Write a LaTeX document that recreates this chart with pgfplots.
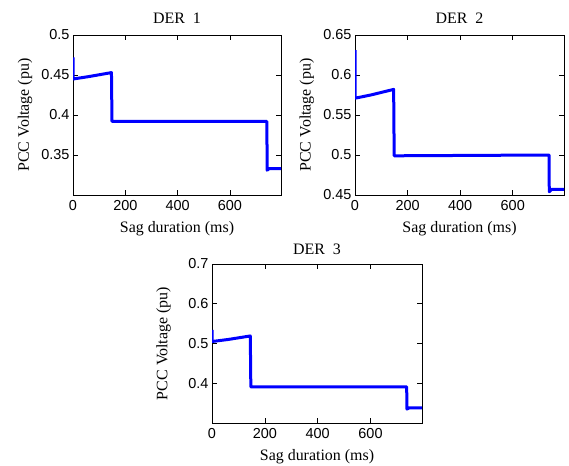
\documentclass[border=0pt]{standalone}
\usepackage{fontspec}
\setmainfont{Liberation Serif}
\newfontfamily\arial{Liberation Sans}
\usepackage{pgfplots}
\pgfplotsset{compat=1.18}

\pgfplotsset{
  dersty/.style={
    scale only axis, width=208bp, height=160bp,
    xmin=0, xmax=795, xtick={0,200,400,600},
    tick label style={font=\arial\fontsize{14.5}{16}\selectfont},
    xticklabel style={yshift=-2bp},
    /pgf/number format/assume math mode=true,
    yticklabel style={/pgf/number format/fixed},
    xlabel={Sag duration (ms)},
    ylabel={PCC Voltage (pu)},
    major tick length=5bp,
    tick style={black, line width=0.6bp},
    axis line style={line width=0.6bp},
    every axis x label/.style={at={(axis description cs:0.5,-0.2125)},anchor=center,
      font=\fontsize{16}{18}\selectfont},
    every axis y label/.style={at={(axis description cs:-0.231,0.5)},rotate=90,anchor=center,
      font=\fontsize{16}{18}\selectfont},
    anchor=north west,
  },
  dtitle/.style={every axis title/.style={at={(axis description cs:0.5,#1)},anchor=center,
      font=\fontsize{16}{18}\selectfont}},
  dline/.style={blue, line width=3bp, line join=round},
}

\begin{document}
\begin{tikzpicture}
\useasboundingbox (0,0) rectangle (569bp,-466bp);

% DER 1
\begin{axis}[dersty, at={(73bp,-35bp)},
  ymin=0.3, ymax=0.5, ytick={0.35,0.4,0.45,0.5},
  title={DER\ \ 1}, dtitle=1.105]
\addplot[dline] coordinates {
  (0,0.472)(0,0.445)(60,0.448)(147,0.453)(149,0.392)
  (741,0.392)(742,0.331)(750,0.333)(795,0.333)};
\end{axis}

% DER 2
\begin{axis}[dersty, at={(355bp,-35bp)}, width=209bp,
  ymin=0.45, ymax=0.65, ytick={0.45,0.5,0.55,0.6,0.65},
  title={DER\ \ 2}, dtitle=1.105]
\addplot[dline] coordinates {
  (0,0.631)(0,0.571)(60,0.575)(147,0.582)(149,0.499)
  (738,0.500)(739,0.454)(748,0.457)(795,0.457)};
\end{axis}

% DER 3
\begin{axis}[dersty, at={(212bp,-264bp)}, width=210bp, height=159bp,
  ymin=0.3, ymax=0.7, ytick={0.4,0.5,0.6,0.7},
  title={DER\ \ 3}, dtitle=1.09]
\addplot[dline] coordinates {
  (0,0.534)(0,0.505)(60,0.510)(145,0.519)(147,0.391)
  (737,0.391)(738,0.335)(746,0.338)(795,0.338)};
\end{axis}
\end{tikzpicture}
\end{document}
